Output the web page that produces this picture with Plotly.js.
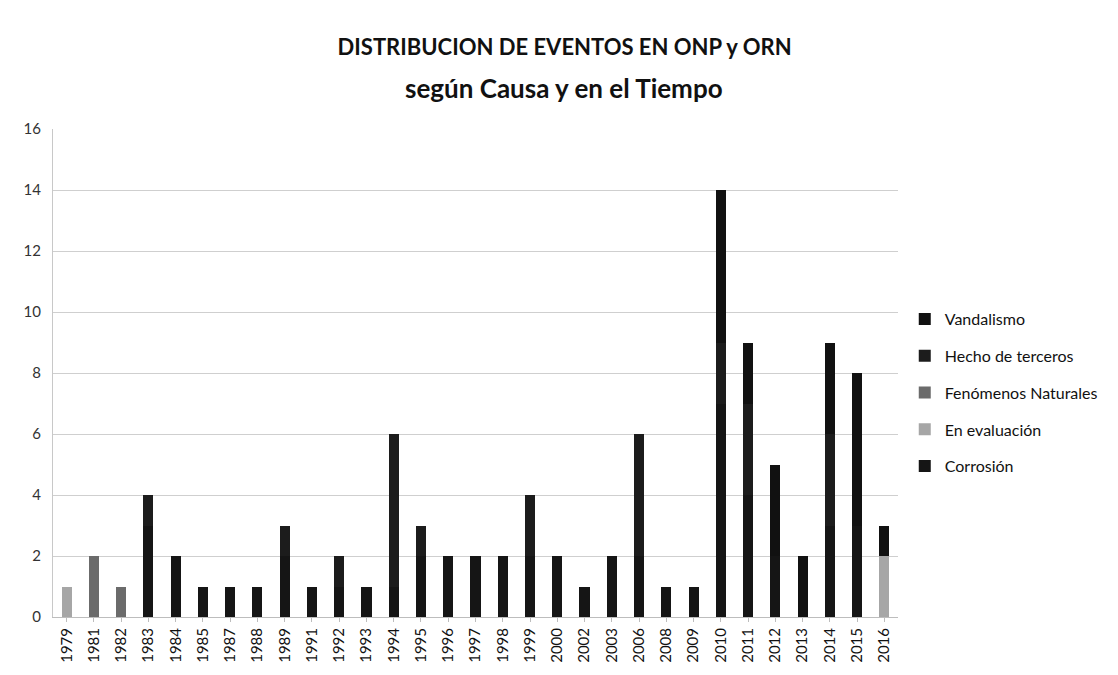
<!DOCTYPE html>
<html>
<head>
<meta charset="utf-8">
<script src="https://cdn.plot.ly/plotly-3.0.1.min.js"></script>
<style>
  html, body { margin: 0; padding: 0; background: #fff; }
  #plot { width: 1118px; height: 675px; }
</style>
</head>
<body>
<div id="plot"></div>
<script>
// years with events
var years = ["1979","1981","1982","1983","1984","1985","1987","1988","1989","1991",
             "1992","1993","1994","1995","1996","1997","1998","1999","2000","2002",
             "2003","2006","2008","2009","2010","2011","2012","2013","2014","2015","2016"];

// events per cause (split estimated)
var corrosion    = [0,0,0,3,2,1,1,1,2,1, 1,1,1,2,2,2,2,2,2,1, 2,2,1,1,7,4,2,0,3,3,0];
var enEvaluacion = [1,0,0,0,0,0,0,0,0,0, 0,0,0,0,0,0,0,0,0,0, 0,0,0,0,0,0,0,0,0,0,2];
var fenomenos    = [0,2,1,0,0,0,0,0,0,0, 0,0,0,0,0,0,0,0,0,0, 0,0,0,0,0,0,0,0,0,0,0];
var terceros     = [0,0,0,1,0,0,0,0,1,0, 1,0,5,1,0,0,0,2,0,0, 0,4,0,0,2,3,0,0,3,0,0];
var vandalismo   = [0,0,0,0,0,0,0,0,0,0, 0,0,0,0,0,0,0,0,0,0, 0,0,0,0,5,2,3,2,3,5,1];

function serie(name, vals, color, rank) {
  return {
    type: "bar",
    name: name,
    x: years,
    y: vals,
    legendgroup: name,
    legendrank: rank,
    marker: { color: color, line: { width: 0 } },
    hoverinfo: "x+y+name"
  };
}

// first trace sits at the bottom of the stack
var data = [
  serie("Corrosión", corrosion, "#151515", 5),
  serie("En evaluación", enEvaluacion, "#a6a6a6", 4),
  serie("Fenómenos Naturales", fenomenos, "#6b6b6b", 3),
  serie("Hecho de terceros", terceros, "#1c1c1c", 2),
  serie("Vandalismo", vandalismo, "#111111", 1)
];

var layout = {
  width: 1118,
  height: 675,
  barmode: "stack",
  bargap: 0.63,
  paper_bgcolor: "#ffffff",
  plot_bgcolor: "#ffffff",
  font: { family: "Lato, 'Open Sans', sans-serif", color: "#222" },
  margin: { l: 53, r: 220, t: 129, b: 58 },
  title: {
    text: "DISTRIBUCION DE EVENTOS EN ONP y ORN",
    font: { size: 22, color: "#111", weight: "bold" },
    x: 0.505, xanchor: "center",
    y: 0.93, yanchor: "middle"
  },
  annotations: [{
    text: "según Causa y en el Tiempo",
    xref: "paper", yref: "paper",
    x: 0.605, y: 1.0 + (129 - 88) / 488,
    xanchor: "center", yanchor: "middle",
    showarrow: false,
    font: { size: 26, color: "#111", weight: "bold" }
  }],
  xaxis: {
    type: "category",
    tickangle: -90,
    tickfont: { size: 15, color: "#111" },
    showline: true,
    linecolor: "#bdbdbd",
    ticks: "outside",
    ticklen: 4,
    tickcolor: "#bdbdbd",
    showgrid: false
  },
  yaxis: {
    range: [0, 16],
    dtick: 2,
    tickfont: { size: 15, color: "#333" },
    showline: true,
    linecolor: "#c8c8c8",
    gridcolor: "#cfcfcf",
    zeroline: false,
    ticks: "",
    ticklabelstandoff: 8
  },
  legend: {
    x: 1.008, xanchor: "left",
    y: 0.46, yanchor: "middle",
    traceorder: "grouped",
    tracegroupgap: 13,
    font: { size: 16, color: "#111" },
    itemwidth: 30
  }
};

Plotly.newPlot("plot", data, layout, { displayModeBar: false, staticPlot: true });
</script>
</body>
</html>
